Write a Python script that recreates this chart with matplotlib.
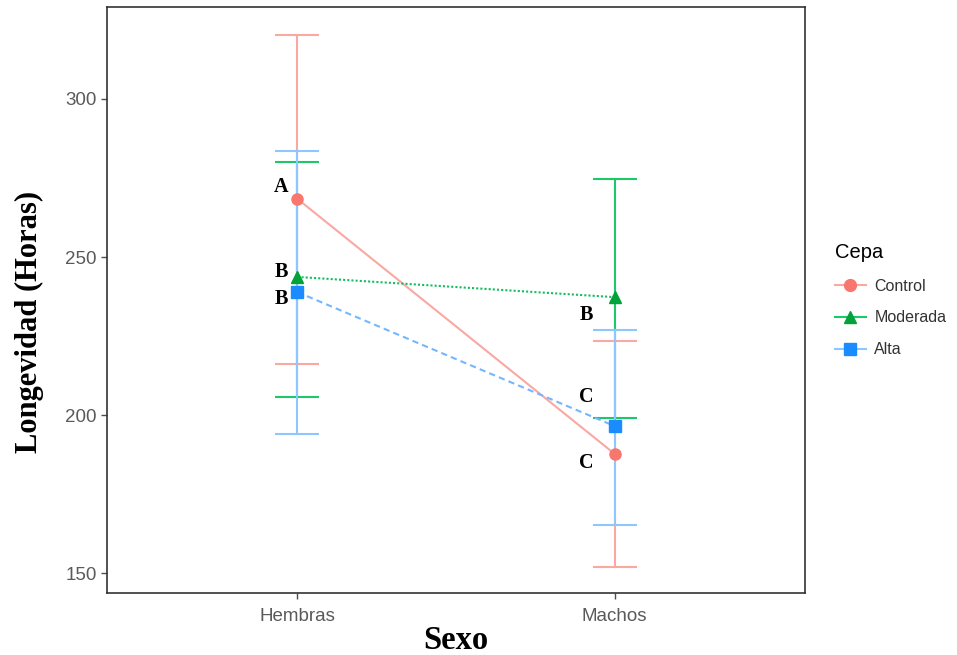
import numpy as np
import matplotlib.pyplot as plt
from matplotlib.lines import Line2D

# Data
sexo = ['Hembras', 'Machos']
cepas = ['Control', 'Moderada', 'Alta']
media = {'Control': [268.4, 187.7], 'Moderada': [243.7, 237.3], 'Alta': [238.9, 196.5]}
sup = {'Control': [320.3, 223.4], 'Moderada': [280.1, 274.7], 'Alta': [283.5, 226.9]}
inf = {'Control': [216.1, 151.9], 'Moderada': [205.7, 199.0], 'Alta': [194.0, 165.2]}

# Letters of significance
letras = ['A', 'B', 'B', 'B', 'C', 'C']
letras_x = [0.95, 0.95, 0.95, 1.912, 1.912, 1.912]
letras_y = [272.2, 245.3, 236.7, 231.6, 205.7, 184.8]

# Styles
col_err = {'Control': '#F9A8A2', 'Moderada': '#1CC86A', 'Alta': '#8EC6FF'}
col_pt = {'Control': '#F8766D', 'Moderada': '#00A33A', 'Alta': '#1A8CFF'}
col_line = {'Control': '#F9A8A2', 'Moderada': '#10C060', 'Alta': '#74B6FF'}
marcas = {'Control': 'o', 'Moderada': '^', 'Alta': 's'}
estilos = {'Control': '-', 'Moderada': (0, (1, 1)), 'Alta': (0, (3, 2))}

fig = plt.figure(figsize=(9.57, 6.55), dpi=100)
ax = fig.add_axes([0.1118, 0.0947, 0.7294, 0.8946])

x = np.array([1, 2])
for c in cepas:
    m = np.array(media[c])
    yerr = [m - np.array(inf[c]), np.array(sup[c]) - m]
    ax.errorbar(x, m, yerr=yerr, fmt='none', ecolor=col_err[c], elinewidth=1.5,
                capsize=16, capthick=1.5, zorder=2)
for c in cepas:
    ax.plot(x, media[c], color=col_line[c], linestyle=estilos[c], linewidth=1.5, zorder=3)
    ax.plot(x, media[c], linestyle='none', marker=marcas[c], markersize=8,
            color=col_pt[c], zorder=4)

for t, lx, ly in zip(letras, letras_x, letras_y):
    ax.text(lx, ly, t, ha='center', va='center', fontsize=14.5, fontweight='bold',
            family='Liberation Serif', color='black')

ax.set_xlim(0.4, 2.6)
ax.set_ylim(143.7, 329.1)
ax.set_xticks(x)
ax.set_xticklabels(sexo)
ax.set_yticks([150, 200, 250, 300])
ax.tick_params(colors='#4D4D4D', labelsize=13.5, length=4, width=1)
ax.tick_params(axis='x', pad=7)
for lab in ax.get_xticklabels() + ax.get_yticklabels():
    lab.set_family('Liberation Sans')
    lab.set_color('#5A5A5A')
for s in ax.spines.values():
    s.set_color('#333333')
    s.set_linewidth(1.2)

ax.set_xlabel('Sexo', family='Liberation Serif', fontweight='bold', fontsize=23.5, labelpad=0)
ax.set_ylabel('Longevidad (Horas)', family='Liberation Serif', fontweight='bold',
              fontsize=22)
ax.yaxis.set_label_coords(-0.090, 0.4625)

handles = [Line2D([0], [0], color=col_err[c], marker=marcas[c], markersize=8.5,
                  markerfacecolor=col_pt[c], markeredgecolor=col_pt[c], linewidth=1.5)
           for c in cepas]
leg = fig.legend(handles, cepas, title='Cepa', loc='center left',
                 bbox_to_anchor=(0.857, 0.542), frameon=False,
                 prop={'family': 'Liberation Sans', 'size': 11.5},
                 title_fontproperties={'family': 'Liberation Sans', 'size': 14.5},
                 handlelength=2.0, labelspacing=1.05, handletextpad=0.5)
leg._legend_box.align = 'left'
for txt in leg.get_texts():
    txt.set_color('#333333')

fig.savefig('out.png', dpi=100)
